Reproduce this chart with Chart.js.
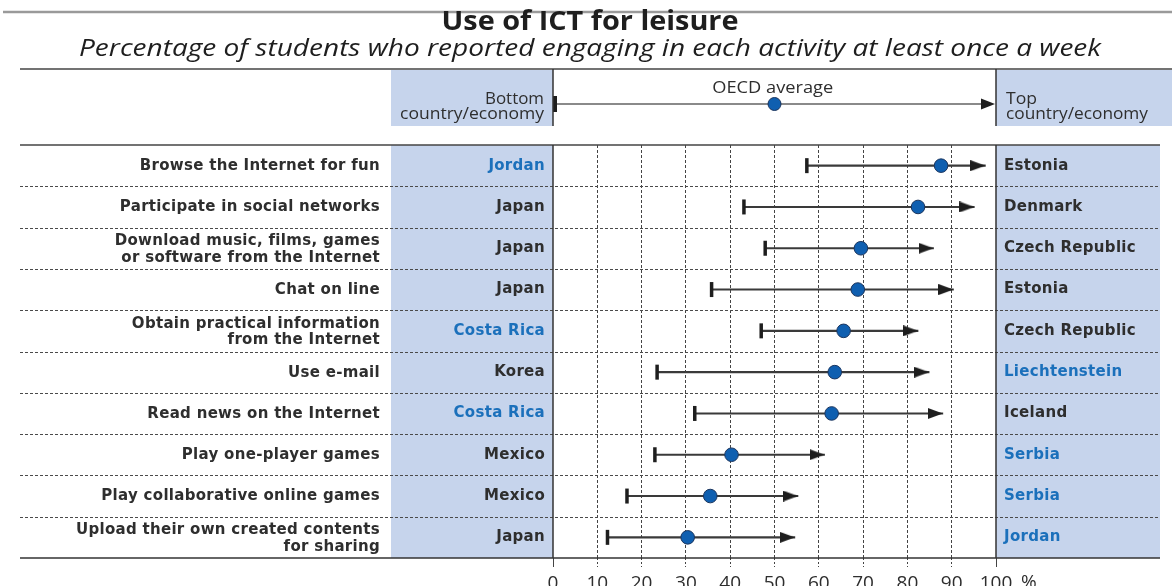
<!DOCTYPE html>
<html>
<head>
<meta charset="utf-8">
<title>Use of ICT for leisure</title>
<script src="https://cdn.jsdelivr.net/npm/chart.js@4.4.1/dist/chart.umd.min.js"></script>
<style>
  html, body { margin: 0; padding: 0; background: #ffffff; }
  canvas { display: block; }
</style>
</head>
<body>
<canvas id="ict_leisure" width="1172" height="586"></canvas>
<script>
// Activities (top to bottom)
var activities = [
  "Browse the Internet for fun",
  "Participate in social networks",
  ["Download music, films, games", "or software from the Internet"],
  "Chat on line",
  ["Obtain practical information", "from the Internet"],
  "Use e-mail",
  "Read news on the Internet",
  "Play one-player games",
  "Play collaborative online games",
  ["Upload their own created contents", "for sharing"]
];

var bottomCountries = ["Jordan", "Japan", "Japan", "Japan", "Costa Rica", "Korea", "Costa Rica", "Mexico", "Mexico", "Japan"];
var topCountries = ["Estonia", "Denmark", "Czech Republic", "Estonia", "Czech Republic", "Liechtenstein", "Iceland", "Serbia", "Serbia", "Jordan"];

// Percentages
var bottomValues = [57.3, 43.1, 47.9, 35.8, 47.0, 23.5, 32.0, 23.0, 16.7, 12.3];
var oecdAverage = [87.6, 82.4, 69.5, 68.8, 65.6, 63.6, 62.9, 40.3, 35.5, 30.4];
var topValues = [97.6, 95.1, 85.9, 90.4, 82.4, 84.9, 88.0, 61.3, 55.3, 54.6];

// Partner countries are written in blue
var partnerCountries = ["Jordan", "Costa Rica", "Liechtenstein", "Serbia"];

var xTickValues = [0, 10, 20, 30, 40, 50, 60, 70, 80, 90, 100];

var TEXT = "#2e2e2e";
var BLUE = "#1b70bb";
var PANEL = "#c6d4ec";
var DOT = "#0f5fb0";
var DOT_EDGE = "#1b355e";

// Write a text stretched or squeezed to a given width
function fitText(ctx, text, x, y, font, color, align, width) {
  ctx.save();
  ctx.font = font;
  ctx.fillStyle = color;
  ctx.textBaseline = "middle";
  ctx.textAlign = align;
  var k = width ? width / ctx.measureText(text).width : 1;
  ctx.translate(x, y);
  ctx.scale(k, 1);
  ctx.fillText(text, 0, 0);
  ctx.restore();
}

function hLine(ctx, x1, x2, y, color, width, dash) {
  ctx.save();
  ctx.strokeStyle = color;
  ctx.lineWidth = width;
  ctx.setLineDash(dash || []);
  ctx.beginPath();
  ctx.moveTo(x1, y);
  ctx.lineTo(x2, y);
  ctx.stroke();
  ctx.restore();
}

function vLine(ctx, x, y1, y2, color, width) {
  ctx.save();
  ctx.strokeStyle = color;
  ctx.lineWidth = width;
  ctx.beginPath();
  ctx.moveTo(x, y1);
  ctx.lineTo(x, y2);
  ctx.stroke();
  ctx.restore();
}

// Arrow head as point image, the tip sits on the point
function arrowHead(len, h, color) {
  var c = document.createElement("canvas");
  c.width = len * 2;
  c.height = h;
  var g = c.getContext("2d");
  g.fillStyle = color;
  g.beginPath();
  g.moveTo(0, 0);
  g.lineTo(len, h / 2);
  g.lineTo(0, h);
  g.closePath();
  g.fill();
  return c;
}

var framePlugin = {
  id: "frame",
  beforeDraw: function (chart) {
    var ctx = chart.ctx;
    var area = chart.chartArea;
    var x = chart.scales.x;
    var x0 = x.getPixelForValue(0);
    var x100 = x.getPixelForValue(100);

    ctx.save();
    ctx.fillStyle = "#ffffff";
    ctx.fillRect(0, 0, chart.width, chart.height);
    ctx.restore();

    // Titles
    hLine(ctx, 3, 1172, 12, "#9a9a9a", 2.5);
    fitText(ctx, "Use of ICT for leisure", 590, 23, "bold 26px 'Open Sans'", "#1e1e1e", "center", 297);
    fitText(ctx, "Percentage of students who reported engaging in each activity at least once a week", 590, 49, "italic 23px 'Open Sans'", "#1e1e1e", "center", 1022);
    hLine(ctx, 20, 1172, 69, "#444", 1.5);

    // Blue panels
    ctx.fillStyle = PANEL;
    ctx.fillRect(391, 70, x0 - 391, 56);
    ctx.fillRect(x100, 70, 1172 - x100, 56);
    ctx.fillRect(391, area.top, x0 - 391, area.bottom - area.top);
    ctx.fillRect(x100, area.top, 1160 - x100, area.bottom - area.top);

    // Header legend
    fitText(ctx, "Bottom", x0 - 9, 99, "16px 'Open Sans'", TEXT, "right", 59);
    fitText(ctx, "country/economy", x0 - 9, 114, "16px 'Open Sans'", TEXT, "right", 144);
    fitText(ctx, "Top", x100 + 10, 99, "16px 'Open Sans'", TEXT, "left", 31);
    fitText(ctx, "country/economy", x100 + 10, 114, "16px 'Open Sans'", TEXT, "left", 142);
    fitText(ctx, "OECD average", x.getPixelForValue(49.6), 88, "16px 'Open Sans'", TEXT, "center", 121);

    hLine(ctx, x0, x100 - 12, 104, "#8a8a8a", 2);
    ctx.save();
    ctx.fillStyle = "#1e1e1e";
    ctx.fillRect(x0, 96, 4, 16);
    ctx.beginPath();
    ctx.moveTo(x100 - 15, 98.5);
    ctx.lineTo(x100 - 1, 104);
    ctx.lineTo(x100 - 15, 109.5);
    ctx.closePath();
    ctx.fill();
    ctx.beginPath();
    ctx.arc(x.getPixelForValue(50), 104, 6.5, 0, Math.PI * 2);
    ctx.fillStyle = DOT;
    ctx.fill();
    ctx.strokeStyle = DOT_EDGE;
    ctx.lineWidth = 1;
    ctx.stroke();
    ctx.restore();

    vLine(ctx, x0, 69, 126, "#333", 1.5);
    vLine(ctx, x100, 69, 126, "#333", 1.5);
  },
  beforeDatasetsDraw: function (chart) {
    var ctx = chart.ctx;
    var area = chart.chartArea;
    var x = chart.scales.x;
    var y = chart.scales.y;
    var x0 = x.getPixelForValue(0);
    var x100 = x.getPixelForValue(100);

    // Row separators
    for (var i = 0; i < activities.length - 1; i++) {
      var yb = (y.getPixelForValue(i) + y.getPixelForValue(i + 1)) / 2;
      hLine(ctx, 20, 1160, Math.round(yb) + 0.5, "#4a4a4a", 1, [3, 2]);
    }
    hLine(ctx, 20, 1160, area.top, "#444", 1.5);
    hLine(ctx, 20, 1160, area.bottom, "#333", 1.5);
    vLine(ctx, x0, area.top, area.bottom, "#333", 1.5);
    vLine(ctx, x100, area.top, area.bottom, "#333", 1.5);

    // Labels and countries
    activities.forEach(function (label, i) {
      var yc = y.getPixelForValue(i);
      ctx.save();
      ctx.font = "bold 15px 'DejaVu Sans'";
      ctx.fillStyle = TEXT;
      ctx.textBaseline = "middle";
      ctx.textAlign = "right";
      ctx.letterSpacing = "0.3px";
      if (Array.isArray(label)) {
        ctx.fillText(label[0], 380, yc - 7);
        ctx.fillText(label[1], 380, yc + 9.5);
      } else {
        ctx.fillText(label, 380, yc + 0.5);
      }
      ctx.fillStyle = partnerCountries.indexOf(bottomCountries[i]) >= 0 ? BLUE : TEXT;
      ctx.fillText(bottomCountries[i], x0 - 8, yc);
      ctx.textAlign = "left";
      ctx.fillStyle = partnerCountries.indexOf(topCountries[i]) >= 0 ? BLUE : TEXT;
      ctx.fillText(topCountries[i], x100 + 8, yc);
      ctx.restore();
    });
  },
  afterDraw: function (chart) {
    var x = chart.scales.x;
    var ctx = chart.ctx;
    ctx.save();
    ctx.font = "19px 'Open Sans'";
    ctx.fillStyle = TEXT;
    ctx.textBaseline = "middle";
    ctx.textAlign = "left";
    ctx.fillText("%", x.getPixelForValue(100) + 25, 583);
    ctx.restore();
  }
};

document.addEventListener("DOMContentLoaded", function () {
  var ctx = document.getElementById("ict_leisure").getContext("2d");

  var ranges = bottomValues.map(function (v, i) {
    return [v, topValues[i]];
  });

  var chart = new Chart(ctx, {
    type: "bar",
    data: {
      labels: activities,
      datasets: [
        {
          // line from bottom to top country
          label: "Range",
          data: ranges,
          backgroundColor: "#3a3a3a",
          borderWidth: 0,
          barThickness: 1.4,
          indexAxis: "y",
          order: 4
        },
        {
          label: "Bottom country/economy",
          type: "line",
          data: bottomValues,
          showLine: false,
          indexAxis: "y",
          pointStyle: "line",
          rotation: 90,
          pointRadius: 7.5,
          pointBorderWidth: 3.5,
          pointBorderColor: "#1e1e1e",
          order: 3
        },
        {
          label: "Top country/economy",
          type: "line",
          data: topValues,
          showLine: false,
          indexAxis: "y",
          pointStyle: arrowHead(15, 11, "#1e1e1e"),
          pointRadius: 8,
          order: 2
        },
        {
          label: "OECD average",
          type: "line",
          data: oecdAverage,
          showLine: false,
          indexAxis: "y",
          pointStyle: "circle",
          pointRadius: 6.8,
          pointBackgroundColor: DOT,
          pointBorderColor: DOT_EDGE,
          pointBorderWidth: 1,
          order: 1
        }
      ]
    },
    options: {
      indexAxis: "y",
      responsive: false,
      animation: false,
      events: [],
      layout: {
        padding: { left: 553, right: 176, top: 145, bottom: 0 }
      },
      scales: {
        x: {
          type: "linear",
          position: "bottom",
          min: 0,
          max: 100,
          afterBuildTicks: function (scale) {
            scale.ticks = xTickValues.map(function (v) {
              return { value: v };
            });
          },
          afterFit: function (scale) {
            scale.height = 28;
          },
          grid: {
            color: function (c) {
              return c.tick && c.tick.value % 100 === 0 ? "rgba(0,0,0,0)" : "#444";
            },
            lineWidth: 1,
            tickLength: 9,
            tickColor: "#444",
            tickBorderDash: function (c) {
              return c.tick && c.tick.value % 100 === 0 ? [] : [2, 2];
            }
          },
          border: { display: false, dash: [3, 2] },
          ticks: {
            padding: 5,
            color: TEXT,
            font: { family: "'Open Sans'", size: 19 },
            maxRotation: 0,
            autoSkip: false
          }
        },
        y: {
          type: "category",
          display: false,
          offset: true,
          grid: { display: false }
        }
      },
      plugins: {
        legend: { display: false },
        tooltip: { enabled: false }
      }
    },
    plugins: [framePlugin]
  });
});
</script>
</body>
</html>
